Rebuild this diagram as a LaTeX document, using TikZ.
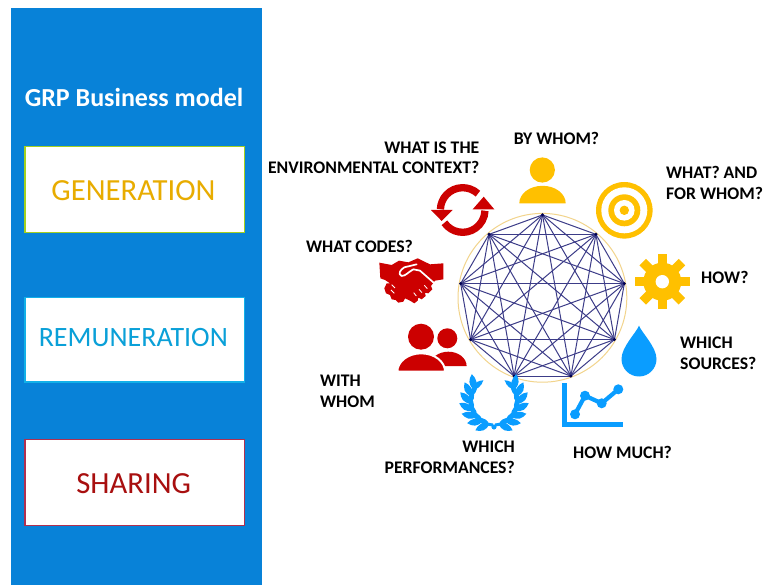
\documentclass[tikz,border=0pt]{standalone}
\usetikzlibrary{calc}
\usepackage{fontspec}
\setmainfont{Carlito}
\definecolor{panelblue}{HTML}{0882D8}
\definecolor{icoyellow}{HTML}{FFC000}
\definecolor{icored}{HTML}{CC0000}
\definecolor{icoblue}{HTML}{0A9DFF}
\definecolor{netnavy}{HTML}{3C3C88}
\definecolor{ringgold}{HTML}{F2D48C}
\definecolor{gentext}{HTML}{E8AC00}
\definecolor{remtext}{HTML}{0AA0D8}
\definecolor{shatext}{HTML}{A80F0F}
\definecolor{genline}{HTML}{A4D020}
\definecolor{remline}{HTML}{12B0E8}
\definecolor{shaline}{HTML}{B03050}
\tikzset{
  modelbox/.style={draw=#1,line width=1.2pt,fill=white,minimum width=219.5pt,inner sep=0pt},
  boxtext/.style={inner sep=0pt,text=#1,font=\fontsize{30.7}{34}\selectfont},
  qlabel/.style={inner sep=0pt,text=black,font=\fontsize{17.7}{20.6}\bfseries\selectfont},
  panelttl/.style={inner sep=0pt,text=white,font=\fontsize{26}{30}\bfseries\selectfont},
}
\begin{document}
\begin{tikzpicture}[x=1pt,y=-1pt]
\useasboundingbox (0,0) rectangle (763,585);
\fill[white] (0,0) rectangle (763,585);
\fill[panelblue] (11,8) rectangle (262,585);
\node[panelttl] (ttl) at (134,97) {GRP Business model};
\node[modelbox=genline,minimum height=85.6pt] (gen) at (134.75,189.5) {};
\node[modelbox=remline,minimum height=84.7pt] (rem) at (134.75,339.6) {};
\node[modelbox=shaline,minimum height=86pt] (sha) at (134.75,482.3) {};
\node[boxtext=gentext] (gent) at (133.5,191) {GENERATION};
\node[boxtext=remtext,font=\fontsize{28}{32}\selectfont] (remt) at (133.3,338) {REMUNERATION};
\node[boxtext=shatext] (shat) at (133.7,484) {SHARING};
% network
\draw[ringgold,line width=1pt] (542.4,297.8) circle[radius=84.4pt];
\foreach \i/\a in {1/90,2/50,3/10,4/-30,5/-70,6/-110,7/-150,8/170,9/130}
  \coordinate (n\i) at ($(542.5,298)+(\a:83.1pt)$);
\foreach \i in {1,...,9}{
  \foreach \j in {1,...,9}{
    \ifnum\i<\j
      \draw[netnavy,line width=1pt] (n\i) -- (n\j);
    \fi
  }
}
\foreach \i in {1,...,9}
  \fill[black!20!blue!40!black] (n\i) circle[radius=1.7pt];
% person
\fill[icoyellow] (542.3,170) circle[radius=12.6pt];
\fill[icoyellow] (519.3,203.3) arc[start angle=180,end angle=0,x radius=23.2pt,y radius=17.5pt] -- cycle;
% target
\fill[icoyellow] (624.3,210.3) circle[radius=28.3pt];
\fill[white] (624.3,210.3) circle[radius=23pt];
\fill[icoyellow] (624.3,210.3) circle[radius=16pt];
\fill[white] (624.3,210.3) circle[radius=10.3pt];
\fill[icoyellow] (624.3,210.3) circle[radius=4.7pt];
% gear
\foreach \a in {0,45,90,135}
  \fill[icoyellow,shift={(662.3,281.7)},rotate=\a] (-4.6pt,-27.7pt) rectangle (4.6pt,27.7pt);
\fill[icoyellow] (662.3,281.7) circle[radius=19pt];
\fill[white] (662.3,281.7) circle[radius=6.7pt];
% drop
\fill[icoblue] (639,325.7) .. controls (636,333) and (621.5,347) .. (621.5,359)
  arc[start angle=180,end angle=360,radius=17.5pt]
  .. controls (656.5,347) and (642,333) .. (639,325.7) -- cycle;
% chart
\fill[icoblue] (561.7,383.3) rectangle (567,426.7);
\fill[icoblue] (561.7,421.7) rectangle (622.7,426.7);
\draw[icoblue,line width=4.2pt,line join=round] (575,414.3) -- (585,395.7) -- (601.7,403.3) -- (618.3,389.3);
\foreach \p in {(575,414.3),(585,395.7),(601.7,403.3),(618.3,389.3)}
  \fill[icoblue] \p circle[radius=5pt];
% laurel
\foreach \sx in {1,-1}{
  \begin{scope}[shift={(494,401)},xscale=\sx]
    \draw[icoblue,line width=3pt] (-1pt,-24pt) arc[start angle=267,end angle=150,radius=24pt];
    \foreach \a in {256,238,220,202,184,166,148}{
      \fill[icoblue,rotate=\a,shift={(24pt,0pt)}] (-1pt,1pt) .. controls (7pt,0pt) and (9pt,-5pt) .. (9pt,-11pt) .. controls (3pt,-10pt) and (-2pt,-6pt) .. (-1pt,1pt) -- cycle;
      \fill[icoblue,rotate=\a,shift={(24pt,0pt)}] (1pt,1pt) .. controls (-4pt,0pt) and (-5.5pt,-6pt) .. (-4pt,-12pt) .. controls (0pt,-9pt) and (3pt,-5pt) .. (1pt,1pt) -- cycle;
    }
    \fill[icoblue] (0pt,-26pt) circle[radius=2.4pt];
  \end{scope}
}
% people
\fill[icored] (447.3,338.3) circle[radius=10pt];
\fill[icored] (430,366) arc[start angle=180,end angle=0,x radius=18.3pt,y radius=14.3pt] -- cycle;
\fill[icored,draw=white,line width=2pt] (397.3,371.7) arc[start angle=180,end angle=0,x radius=23.9pt,y radius=18.4pt] -- cycle;
\fill[icored] (421,336.7) circle[radius=13pt];
% handshake
\begin{scope}[shift={(375,250)},x=0.3333pt,y=-0.3333pt]
  \fill[icored] (13,38) -- (50,45) -- (72,32) -- (100,37) -- (128,25) -- (165,43) -- (205,40) -- (205,88) -- (180,92) -- (168,108) -- (172,118) -- (160,130) -- (150,128) -- (152,138) -- (140,148) -- (130,143) -- (128,152) -- (118,160) -- (105,152) -- (90,145) -- (85,155) -- (70,158) -- (62,150) -- (50,148) -- (45,135) -- (33,130) -- (28,115) -- (35,100) -- (45,100) -- (30,90) -- (16,85) -- cycle;
  \draw[white,line width=1.7pt,line join=round,line cap=round] (125,43) -- (88,52) .. controls (75,60) and (68,72) .. (80,78) .. controls (92,78) and (100,66) .. (115,58) -- (135,62) -- (176,98);
  \draw[white,line width=0.8pt] (116,128) -- (124,138) (132,118) -- (141,128) (148,106) -- (157,116) (50,104) -- (60,114) (48,120) -- (58,130);
\end{scope}
% refresh
\draw[icored,line width=7.3pt] (462.7,210) ++(47:22.3pt) arc[start angle=47,end angle=178,radius=22.3pt];
\draw[icored,line width=7.3pt] (462.7,210) ++(215:22.3pt) arc[start angle=215,end angle=358,radius=22.3pt];
\fill[icored] (431,210) -- (452.7,210) -- (441.7,221) -- cycle;
\fill[icored] (472.7,209.3) -- (494.3,209.3) -- (483.7,196.7) -- cycle;
% labels
\node[qlabel,align=right,anchor=north east] (qa) at (479.5,141.5) {WHAT IS THE\\ENVIRONMENTAL CONTEXT?};
\node[qlabel] (qb) at (556.5,138) {BY WHOM?};
\node[qlabel,align=left,anchor=north west] (qc) at (666,166) {WHAT? AND\\FOR WHOM?};
\node[qlabel,anchor=west] (qd) at (701,277) {HOW?};
\node[qlabel,align=left,anchor=north west] (qe) at (680,337) {WHICH\\SOURCES?};
\node[qlabel,anchor=west] (qf) at (573,452) {HOW MUCH?};
\node[qlabel,align=right,anchor=north east] (qg) at (515,441) {WHICH\\PERFORMANCES?};
\node[qlabel,align=left,anchor=north west] (qh) at (320,375) {WITH\\WHOM};
\node[qlabel,anchor=west] (qi) at (306,246) {WHAT CODES?};
\end{tikzpicture}
\end{document}
